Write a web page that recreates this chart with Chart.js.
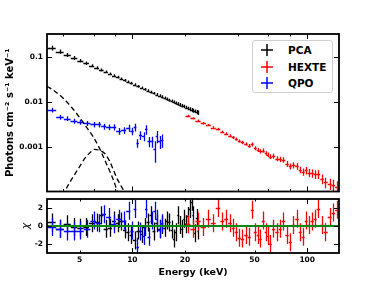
<!DOCTYPE html>
<html>
<head>
<meta charset="utf-8">
<title>Spectrum</title>
<script src="https://cdn.jsdelivr.net/npm/chart.js@4/dist/chart.umd.min.js"></script>
<style>
html, body { margin: 0; padding: 0; background: #fff; }
#page { position: relative; width: 376px; height: 285px; overflow: hidden; }
#spectrum { position: absolute; left: 0; top: 0; }
#residuals { position: absolute; left: 0; top: 190px; }
#legend { position: absolute; left: 252px; top: 40px; width: 81px; height: 53px; box-sizing: border-box;
          border: 1px solid #cfcfcf; border-radius: 3px; background: #fff;
          font: bold 10.5px "DejaVu Sans", sans-serif; color: #000; }
#legend .row { position: absolute; left: 0; width: 79px; height: 12px; line-height: 12px; }
#legend svg { position: absolute; left: 8px; top: 0; }
#legend span { position: absolute; left: 35px; top: 0; white-space: nowrap; }
</style>
</head>
<body>
<div id="page">
  <canvas id="spectrum" width="376" height="200"></canvas>
  <canvas id="residuals" width="376" height="95"></canvas>
  <div id="legend"></div>
</div>
<script>
// values
const seriesNames = ['PCA', 'HEXTE', 'QPO'];
const seriesColors = ['#000000', '#ff0000', '#0000ff'];

// PCA
const pcaEnergy = [3.45, 3.85, 4.25, 4.65, 5.05, 5.45, 5.85, 6.25, 6.65, 7.05, 7.45, 7.85, 8.25, 8.65, 9.05, 9.45, 9.85,
  10.3, 10.8, 11.3, 11.8, 12.3, 12.8, 13.3, 13.8, 14.3, 14.8, 15.3, 15.8, 16.3, 16.8, 17.3, 17.8, 18.3, 18.8, 19.3, 19.8,
  20.3, 20.8, 21.3, 21.8, 22.3, 22.8, 23.3, 23.8];
const pcaFlux = [0.157, 0.130, 0.110, 0.0938, 0.0814, 0.0714, 0.0632, 0.0564, 0.0507, 0.0459, 0.0417, 0.0381, 0.0350,
  0.0323, 0.0299, 0.0277, 0.0258, 0.0239, 0.0220, 0.0204, 0.0189, 0.0176, 0.0164, 0.0154, 0.0144, 0.0136, 0.0128, 0.0121,
  0.0114, 0.0108, 0.0103, 0.0098, 0.0093, 0.0089, 0.0085, 0.0081, 0.0078, 0.0074, 0.0071, 0.0068, 0.0066, 0.0063, 0.0061,
  0.0059, 0.0057];
const pcaErr = [0.12, 0.11, 0.10, 0.10, 0.09, 0.09, 0.08, 0.08, 0.08, 0.07, 0.07, 0.07, 0.07, 0.07, 0.07, 0.07, 0.07,
  0.07, 0.07, 0.07, 0.07, 0.07, 0.07, 0.07, 0.08, 0.08, 0.08, 0.08, 0.08, 0.08, 0.08, 0.08, 0.08, 0.09, 0.09, 0.09, 0.09,
  0.09, 0.09, 0.10, 0.10, 0.10, 0.10, 0.11, 0.11];
const pcaResid = [0.4, -0.3, 0.2, -0.1, -0.2, -0.1, 0.3, 0.4, 1.2, -0.3, -0.2, 0.6, 0.3, 0.5, -0.4, -0.7, -1.0, -1.6,
  -0.5, -0.9, -0.1, 0.4, 1.2, -0.6, 0.3, -0.3, 0.1, -0.2, 0.6, 0.4, -0.4, -1.4, -0.7, 1.2, 0.1, -0.3, 0.8, 0.2, 1.1, 1.9,
  2.7, 1.2, -0.8, 0.9, -0.5];

// HEXTE
const hexteEnergy = [20.8, 22.2, 23.7, 25.5, 27.2, 29.0, 31.0, 32.7, 34.4, 36.3, 37.8, 39.3, 40.9, 42.5, 44.8, 46.6,
  48.5, 50.4, 52.5, 53.9, 56.0, 58.3, 59.8, 61.5, 64.0, 67.4, 70.1, 73.0, 76.9, 80.0, 83.2, 87.7, 91.2, 94.9, 98.6, 102.6,
  106.8, 111.1, 115.6, 121.9, 126.8, 135.3, 140.8, 148.3];
const hexteFlux = [0.00480, 0.00426, 0.00378, 0.00331, 0.00301, 0.00264, 0.00246, 0.00213, 0.00195, 0.00174, 0.00160,
  0.00147, 0.00133, 0.00124, 0.00114, 0.00104, 0.00112, 0.000925, 0.000845, 0.000790, 0.000815, 0.000705, 0.000660,
  0.000600, 0.000612, 0.000540, 0.000518, 0.000505, 0.000415, 0.000365, 0.000385, 0.000368, 0.000305, 0.000275, 0.000295,
  0.000263, 0.000255, 0.000242, 0.000245, 0.000192, 0.000160, 0.000150, 0.000140, 0.000128];
const hexteErr = [0.06, 0.06, 0.06, 0.06, 0.06, 0.07, 0.07, 0.07, 0.07, 0.08, 0.08, 0.08, 0.08, 0.09, 0.09, 0.09, 0.10,
  0.10, 0.10, 0.11, 0.11, 0.11, 0.12, 0.12, 0.13, 0.13, 0.14, 0.14, 0.15, 0.15, 0.16, 0.17, 0.17, 0.18, 0.19, 0.20, 0.21,
  0.22, 0.23, 0.24, 0.26, 0.28, 0.30, 0.32];
const hexteResid = [0.2, -0.3, 0.5, -0.1, 0.8, 0.3, 2.0, 0.5, 0.8, 0.3, -0.2, -0.7, -1.3, -1.4, -1.0, -1.2, 1.8, -0.7,
  -1.0, -1.4, 0.6, -0.7, -1.1, -2.0, -0.3, -0.7, -0.3, 0.5, -1.0, -1.8, 0.1, 0.8, -0.7, -1.2, 0.6, 0.1, 0.5, 0.8, 1.9,
  0.1, -0.7, 1.0, 1.5, 1.8];

// QPO
const qpoEnergy = [3.47, 3.88, 4.24, 4.63, 5.05, 5.51, 6.01, 6.42, 6.85, 7.32, 7.82, 8.35, 8.92, 9.53, 9.96, 10.4, 10.7,
  11.1, 11.6, 12.0, 12.4, 13.0, 13.4, 13.8, 14.3, 14.8];
const qpoFlux = [0.0065, 0.0045, 0.0042, 0.0037, 0.0035, 0.0033, 0.0031, 0.0031, 0.0028, 0.0027, 0.0027, 0.0022, 0.0023,
  0.0026, 0.0022, 0.0027, 0.0012, 0.0018, 0.0017, 0.0024, 0.0013, 0.0013, 0.00087, 0.0017, 0.0013, 0.0014];
const qpoErr = [0.12, 0.12, 0.12, 0.13, 0.13, 0.13, 0.14, 0.14, 0.15, 0.15, 0.16, 0.17, 0.17, 0.18, 0.19, 0.20, 0.22,
  0.22, 0.23, 0.24, 0.26, 0.28, 0.50, 0.30, 0.32, 0.33];
const qpoResid = [-0.1, -0.3, -0.6, -0.6, -0.5, -0.3, 0.6, 0.3, 1.3, 1.0, 0.2, 0.8, 0.6, 1.7, -0.5, 1.9, -2.3, -0.6,
  -1.1, 1.9, -1.2, 0.6, 1.7, 0.8, -0.4, 0.3];

// dashed model components
const diskEnergy = [3.25, 3.6, 4.0, 4.5, 5.0, 5.5, 6.0, 6.5, 7.0, 7.5, 8.0, 8.4];
const diskFlux = [0.022, 0.017, 0.0122, 0.0074, 0.0044, 0.0026, 0.0016, 0.00090, 0.00047, 0.00026, 0.000135, 0.00007];
const lineEnergy = [4.0, 4.3, 4.65, 5.0, 5.3, 5.7, 6.1, 6.5, 7.0, 7.4, 7.8, 8.2, 8.6, 9.0, 9.3];
const lineFlux = [0.00008, 0.00014, 0.00023, 0.00036, 0.00052, 0.00072, 0.00087, 0.00082, 0.00068, 0.00048, 0.00030,
  0.00019, 0.000135, 0.0001, 0.00008];

// axes
const energyRange = [3.25, 152];
const fluxRange = [1e-4, 0.32];
const residRange = [-3, 3];
const energyTicks = [5, 10, 20, 50, 100];
const fluxTicks = [0.1, 0.01, 0.001];
const residTicks = [-2, 0, 2];

Chart.defaults.font.family = '"DejaVu Sans", sans-serif';
Chart.defaults.color = '#000';

const same = (a, b) => b === 0 ? Math.abs(a) < 1e-9 : Math.abs(a / b - 1) < 1e-6;
const isDecade = v => Math.abs(Math.log10(v) - Math.round(Math.log10(v))) < 1e-6;
const pts = (xs, ys) => xs.map((x, i) => ({ x: x, y: ys[i] }));
const pickLabel = list => v => {
  const hit = list.find(t => same(v, t));
  return hit === undefined ? null : String(hit);
};

// crosses: bin width from neighbouring bin centres, vertical bar = 1 sigma
const errorBars = {
  id: 'errorBars',
  beforeDatasetsDraw(chart) {
    const { ctx, chartArea: a, scales: { x: sx, y: sy } } = chart;
    ctx.save();
    ctx.beginPath();
    ctx.rect(a.left, a.top, a.right - a.left, a.bottom - a.top);
    ctx.clip();
    ctx.lineWidth = 1.3;
    chart.data.datasets.forEach(ds => {
      if (!ds.barColor) return;
      const d = ds.data;
      ctx.strokeStyle = ds.barColor;
      ctx.beginPath();
      d.forEach((p, i) => {
        let lo = d[i - 1] ? Math.sqrt(d[i - 1].x * p.x) : null;
        let hi = d[i + 1] ? Math.sqrt(d[i + 1].x * p.x) : null;
        if (lo === null) lo = p.x * p.x / hi;
        if (hi === null) hi = p.x * p.x / lo;
        const e = ds.errAbs !== undefined ? ds.errAbs : p.y * ds.errRel[i];
        const px = Math.round(sx.getPixelForValue(p.x)) + 0.5;
        const py = Math.round(sy.getPixelForValue(p.y)) + 0.5;
        ctx.moveTo(sx.getPixelForValue(lo), py);
        ctx.lineTo(sx.getPixelForValue(hi), py);
        ctx.moveTo(px, sy.getPixelForValue(p.y + e));
        ctx.lineTo(px, sy.getPixelForValue(p.y - e));
      });
      ctx.stroke();
    });
    ctx.restore();
  }
};

// box round the plot area, ticks pointing inwards on all sides
const frame = {
  id: 'frame',
  afterDraw(chart, args, opts) {
    const { ctx, chartArea: a, scales: { x: sx, y: sy } } = chart;
    ctx.save();
    ctx.strokeStyle = '#000';
    ctx.lineWidth = 1;
    ctx.beginPath();
    sx.ticks.forEach(t => {
      if (t.value <= sx.min * 1.0001 || t.value >= sx.max * 0.9999) return;
      const p = Math.round(sx.getPixelForValue(t.value)) + 0.5;
      const len = isDecade(t.value) ? 5 : 2.5;
      ctx.moveTo(p, a.top); ctx.lineTo(p, a.top + len);
      ctx.moveTo(p, a.bottom); ctx.lineTo(p, a.bottom - len);
    });
    sy.ticks.forEach(t => {
      if (t.value <= sy.min || t.value >= sy.max) return;
      let len;
      if (opts.logY) len = isDecade(t.value) ? 5 : 2.5;
      else if (residTicks.some(r => same(t.value, r))) len = 5;
      else return;
      const p = Math.round(sy.getPixelForValue(t.value)) + 0.5;
      ctx.moveTo(a.left, p); ctx.lineTo(a.left + len, p);
      ctx.moveTo(a.right, p); ctx.lineTo(a.right - len, p);
    });
    ctx.stroke();
    ctx.lineWidth = 1.8;
    ctx.strokeRect(a.left, a.top, a.right - a.left, a.bottom - a.top);
    ctx.restore();
  }
};

const tickFont = { size: 7.5, weight: 'bold' };

// ---- spectrum ----
const specSets = [
  { type: 'line', data: pts(diskEnergy, diskFlux), borderColor: '#000', borderWidth: 1.3, borderDash: [5, 3],
    pointRadius: 0, fill: false, cubicInterpolationMode: 'monotone' },
  { type: 'line', data: pts(lineEnergy, lineFlux), borderColor: '#000', borderWidth: 1.3, borderDash: [5, 3],
    pointRadius: 0, fill: false, cubicInterpolationMode: 'monotone' },
  { label: seriesNames[0], data: pts(pcaEnergy, pcaFlux), errRel: pcaErr, barColor: seriesColors[0], pointRadius: 0 },
  { label: seriesNames[1], data: pts(hexteEnergy, hexteFlux), errRel: hexteErr, barColor: seriesColors[1], pointRadius: 0 },
  { label: seriesNames[2], data: pts(qpoEnergy, qpoFlux), errRel: qpoErr, barColor: seriesColors[2], pointRadius: 0 }
];

new Chart(document.getElementById('spectrum'), {
  type: 'scatter',
  data: { datasets: specSets },
  options: {
    responsive: false,
    animation: false,
    events: [],
    layout: { padding: { top: 34, right: 37, bottom: 2.5, left: 0 } },
    plugins: { legend: { display: false }, tooltip: { enabled: false }, frame: { logY: true } },
    scales: {
      x: { type: 'logarithmic', min: energyRange[0], max: energyRange[1], display: false },
      y: {
        type: 'logarithmic', min: fluxRange[0], max: fluxRange[1],
        afterFit(s) { s.width = 47; },
        grid: { display: false, drawTicks: false },
        border: { display: false },
        ticks: { autoSkip: false, padding: 4, font: tickFont, callback: pickLabel(fluxTicks) },
        title: { display: true, text: 'Photons cm⁻² s⁻¹ keV⁻¹', font: { size: 10, weight: 'bold' },
                 padding: { top: 4, bottom: 0 } }
      }
    }
  },
  plugins: [errorBars, frame]
});

// ---- residuals ----
const residSets = [
  { label: seriesNames[0], data: pts(pcaEnergy, pcaResid), errAbs: 1, barColor: seriesColors[0], pointRadius: 0 },
  { label: seriesNames[1], data: pts(hexteEnergy, hexteResid), errAbs: 1, barColor: seriesColors[1], pointRadius: 0 },
  { label: seriesNames[2], data: pts(qpoEnergy, qpoResid), errAbs: 1, barColor: seriesColors[2], pointRadius: 0 },
  { type: 'line', data: [{ x: energyRange[0], y: 0 }, { x: energyRange[1], y: 0 }], borderColor: '#0a8a0a',
    borderWidth: 2, pointRadius: 0, fill: false }
];

new Chart(document.getElementById('residuals'), {
  type: 'scatter',
  data: { datasets: residSets },
  options: {
    responsive: false,
    animation: false,
    events: [],
    layout: { padding: { top: 9, right: 37, bottom: 0, left: 0 } },
    plugins: { legend: { display: false }, tooltip: { enabled: false }, frame: { logY: false } },
    scales: {
      x: {
        type: 'logarithmic', min: energyRange[0], max: energyRange[1],
        afterFit(s) { s.height = 32; },
        grid: { display: false, drawTicks: false },
        border: { display: false },
        ticks: { autoSkip: false, maxRotation: 0, minRotation: 0, padding: 3, font: tickFont,
                 callback: pickLabel(energyTicks) },
        title: { display: true, text: 'Energy (keV)', font: { size: 9.5, weight: 'bold' },
                 padding: { top: 0, bottom: 7 } }
      },
      y: {
        type: 'linear', min: residRange[0], max: residRange[1],
        afterFit(s) { s.width = 47; },
        grid: { display: false, drawTicks: false },
        border: { display: false },
        ticks: { autoSkip: false, stepSize: 1, padding: 4, font: tickFont, callback: pickLabel(residTicks) },
        title: { display: true, text: 'χ', font: { size: 11, style: 'italic' }, padding: { top: 20, bottom: 0 } }
      }
    }
  },
  plugins: [errorBars, frame]
});

// ---- legend ----
const legend = document.getElementById('legend');
seriesNames.forEach((name, i) => {
  const row = document.createElement('div');
  row.className = 'row';
  row.style.top = (3 + i * 16.7) + 'px';
  row.innerHTML = '<svg width="12" height="12" viewBox="0 0 12 12"><path d="M0 6H12M6 0V12" stroke="' +
    seriesColors[i] + '" stroke-width="1.5" fill="none"/></svg><span>' + name + '</span>';
  legend.appendChild(row);
});
</script>
</body>
</html>
